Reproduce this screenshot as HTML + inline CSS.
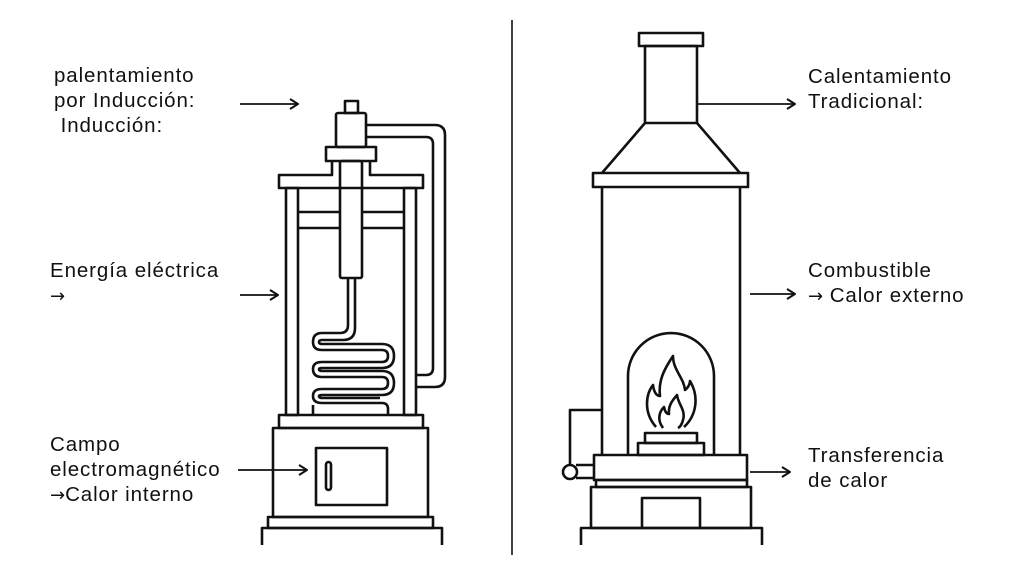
<!DOCTYPE html>
<html><head><meta charset="utf-8"><style>
html,body{margin:0;padding:0;background:#fff;}
body{width:1024px;height:576px;position:relative;overflow:hidden;font-family:"Liberation Sans",sans-serif;color:#111;}
.t{position:absolute;font-size:20.5px;line-height:25px;white-space:nowrap;letter-spacing:0.9px;}
.ar{font-family:"DejaVu Sans",sans-serif;font-size:18px;letter-spacing:0;}
svg{position:absolute;left:0;top:0;}
</style></head><body>
<svg width="1024" height="576" viewBox="0 0 1024 576" fill="none" stroke="#111" stroke-width="2.6" stroke-linejoin="round">
<defs><marker id="a" markerWidth="12" markerHeight="12" refX="10" refY="6" orient="auto" markerUnits="userSpaceOnUse"><path d="M2,1 L10,6 L2,11" fill="none" stroke="#111" stroke-width="2"/></marker></defs>
<line x1="512" y1="20" x2="512" y2="555" stroke-width="1.6"/>
<line x1="240" y1="104" x2="298" y2="104" stroke-width="1.8" marker-end="url(#a)"/>
<line x1="240" y1="295" x2="278" y2="295" stroke-width="1.8" marker-end="url(#a)"/>
<line x1="238" y1="470" x2="307" y2="470" stroke-width="1.8" marker-end="url(#a)"/>
<rect x="345" y="101" width="13" height="12"/>
<rect x="336" y="113" width="30" height="34" rx="2"/>
<rect x="326" y="147" width="50" height="14"/>
<path d="M332 161 V175 H279 V188 H423 V175 H370 V161"/>
<rect x="340" y="161" width="22" height="117" rx="2"/>
<rect x="286" y="188" width="12" height="227"/>
<rect x="404" y="188" width="12" height="227"/>
<line x1="298" y1="212" x2="340" y2="212"/><line x1="298" y1="228" x2="340" y2="228"/>
<line x1="362" y1="212" x2="404" y2="212"/><line x1="362" y1="228" x2="404" y2="228"/>
<path d="M366 125 H435 Q445 125 445 135 V377 Q445 387 435 387 H416"/>
<path d="M366 137 H426 Q433 137 433 144 V368 Q433 375 426 375 H416"/>
<path d="M348 278 V325 Q348 333 340 333 H322 Q313 333 313 342 Q313 350 322 350 H382 Q388 350 388 356 Q388 362 382 362 H322 Q313 362 313 369 Q313 377 322 377 H382 Q388 377 388 383 Q388 389 382 389 H322 Q313 389 313 396 Q313 403 322 403 H382 Q388 403 388 409 V415"/>
<path d="M355 278 V328 Q355 340 343 340 H322 Q319 340 319 342 Q319 344 322 344 H382 Q394 344 394 356 Q394 368 382 368 H322 Q319 368 319 369 Q319 371 322 371 H382 Q394 371 394 383 Q394 395 382 395 H322 Q319 395 319 396 Q319 398 322 398 H380"/>
<path d="M313 415 V405"/>
<rect x="279" y="415" width="144" height="13"/>
<rect x="273" y="428" width="155" height="89"/>
<rect x="316" y="448" width="71" height="57"/>
<rect x="326" y="462" width="5" height="28" rx="2.5"/>
<rect x="268" y="517" width="165" height="11"/>
<path d="M262 545 V528 H442 V545"/>
<rect x="639" y="33" width="64" height="13"/>
<rect x="645" y="46" width="52" height="77"/>
<path d="M645 123 L602 173 M697 123 L740 173"/>
<rect x="593" y="173" width="155" height="14"/>
<line x1="602" y1="187" x2="602" y2="455"/><line x1="740" y1="187" x2="740" y2="455"/>
<path d="M628 455 V376 A43 43 0 0 1 714 376 V455"/>
<path d="M656 427 C643 412 646 394 653 385 C654 393 657 396 660 396 C658 380 665 368 673 356 C673 370 684 378 685 390 C688 388 690 384 690 381 C699 396 697 415 684 427"/>
<path d="M663 428 C657 420 659 412 664 407 C665 412 667 414 669 414 C668 405 673 400 677 395 C678 404 686 410 683 420 C682 424 680 427 678 428"/>
<rect x="645" y="433" width="52" height="10"/>
<rect x="638" y="443" width="66" height="12"/>
<rect x="594" y="455" width="153" height="25"/>
<rect x="596" y="480" width="151" height="7"/>
<rect x="591" y="487" width="160" height="41"/>
<path d="M642 528 V498 H700 V528"/>
<path d="M581 545 V528 H762 V545"/>
<path d="M602 410 H570 V465"/>
<circle cx="570" cy="472" r="7"/>
<line x1="576" y1="465" x2="594" y2="465"/><line x1="576" y1="478" x2="594" y2="478"/>
<line x1="697" y1="104" x2="795" y2="104" stroke-width="1.8" marker-end="url(#a)"/>
<line x1="750" y1="294" x2="795" y2="294" stroke-width="1.8" marker-end="url(#a)"/>
<line x1="750" y1="472" x2="790" y2="472" stroke-width="1.8" marker-end="url(#a)"/>
</svg>
<div class="t" style="left:54px;top:63px">palentamiento<br>por Inducción:<br>&nbsp;Inducción:</div>
<div class="t" style="left:50px;top:258px">Energía eléctrica<br><span class="ar">→</span></div>
<div class="t" style="left:50px;top:432px">Campo<br>electromagnético<br><span class="ar">→</span>Calor interno</div>
<div class="t" style="left:808px;top:64px">Calentamiento<br>Tradicional:</div>
<div class="t" style="left:808px;top:258px">Combustible<br><span class="ar">→</span> Calor externo</div>
<div class="t" style="left:808px;top:443px">Transferencia<br>de calor</div>
</body></html>
